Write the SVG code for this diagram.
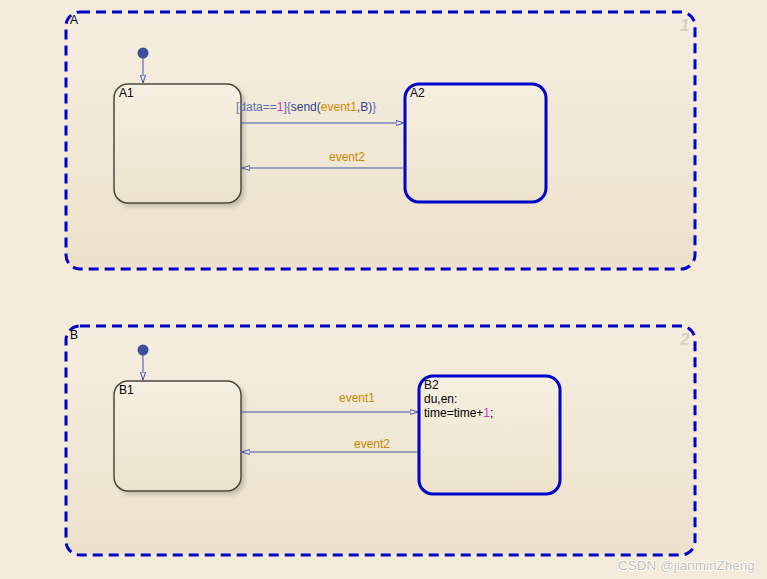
<svg xmlns="http://www.w3.org/2000/svg" width="767" height="579" viewBox="0 0 767 579">
<style>
text{font-family:"Liberation Sans",Arial,sans-serif;font-size:12px;fill:#000}
.chart{fill:url(#chartGrad);stroke:#0000CC;stroke-width:3;stroke-dasharray:10,6}
.s1{fill:url(#stGrad);stroke:#4a4a40;stroke-width:1.5;filter:url(#sh)}
.s2{fill:url(#stGrad);stroke:#0000CC;stroke-width:3}
.tr{stroke:#4455AA;stroke-width:1;fill:none;marker-end:url(#arr)}
.ev{fill:#CC8800}
.br{fill:#6070B0}
.num{fill:#CC33CC}
.idx{font-size:17px;font-weight:bold;font-style:italic;fill:#d6d0c4}
.wm{font-family:"Liberation Sans",Arial,sans-serif;font-size:13.5px;fill:#c4c0b9;stroke:#ffffff;stroke-width:1.5;paint-order:stroke}
</style>
<defs>
<linearGradient id="chartGrad" x1="0" y1="0" x2="0" y2="1">
<stop offset="0" stop-color="#F5EEE0"/><stop offset="1" stop-color="#ECE1CB"/>
</linearGradient>
<linearGradient id="stGrad" x1="0" y1="0" x2="0" y2="1">
<stop offset="0" stop-color="#F6F0E2"/><stop offset="1" stop-color="#ECE2CC"/>
</linearGradient>
<filter id="sh" x="-10%" y="-10%" width="130%" height="130%">
<feDropShadow dx="3" dy="3" stdDeviation="2" flood-color="#000" flood-opacity="0.18"/>
</filter>
<marker id="arr" markerWidth="9" markerHeight="6" refX="8" refY="3" orient="auto" markerUnits="userSpaceOnUse">
<path d="M0,0.5 L8,3 L0,5.5 Z" fill="#E8E8F0" stroke="#4455AA" stroke-width="1"/>
</marker>
</defs>
<rect width="767" height="579" fill="#F5EBDA"/>
<g id="A">
<rect class="chart" x="66" y="12" width="629" height="257" rx="14"/>
<text x="70" y="24">A</text>
<text class="idx" x="680" y="31">1</text>
</g>
<g id="B">
<rect class="chart" x="66" y="326" width="629" height="229" rx="14"/>
<text x="70" y="339">B</text>
<text class="idx" x="680" y="345">2</text>
</g>
<g id="A1">
<rect class="s1" x="114" y="84" width="127" height="119" rx="14"/>
<text x="119" y="97">A1</text>
</g>
<g id="A2">
<rect class="s2" x="405" y="84" width="141" height="118" rx="14"/>
<text x="410" y="97">A2</text>
</g>
<g id="B1">
<rect class="s1" x="114" y="381" width="127" height="110" rx="14"/>
<text x="119" y="394">B1</text>
</g>
<g id="B2">
<rect class="s2" x="419" y="376" width="141" height="118" rx="14"/>
<text x="424" y="389">B2</text>
<text x="424" y="403">du,en:</text>
<text x="424" y="417">time=time+<tspan class="num">1</tspan>;</text>
</g>
<g id="initA">
<circle cx="143" cy="53" r="5.5" fill="#3F4E99"/>
</g>
<g id="initB">
<circle cx="143" cy="350" r="5.5" fill="#3F4E99"/>
</g>
<g id="connectors">
<path class="tr" d="M143,58 V83"/>
<path class="tr" d="M143,355 V380"/>
<path class="tr" d="M241,123 H404"/>
<path class="tr" d="M404,168 H242"/>
<path class="tr" d="M241,412 H418"/>
<path class="tr" d="M418,452 H242"/>
<text x="236" y="111"><tspan class="br">[data==</tspan><tspan class="num">1</tspan><tspan class="br">]{</tspan><tspan fill="#334488">send(</tspan><tspan class="ev">event1</tspan><tspan fill="#334488">,B)</tspan><tspan class="br">}</tspan></text>
<text class="ev" x="329" y="161">event2</text>
<text class="ev" x="339" y="402">event1</text>
<text class="ev" x="354" y="448">event2</text>
</g>
<text class="wm" x="618" y="570">CSDN @jianminZheng</text>
</svg>
